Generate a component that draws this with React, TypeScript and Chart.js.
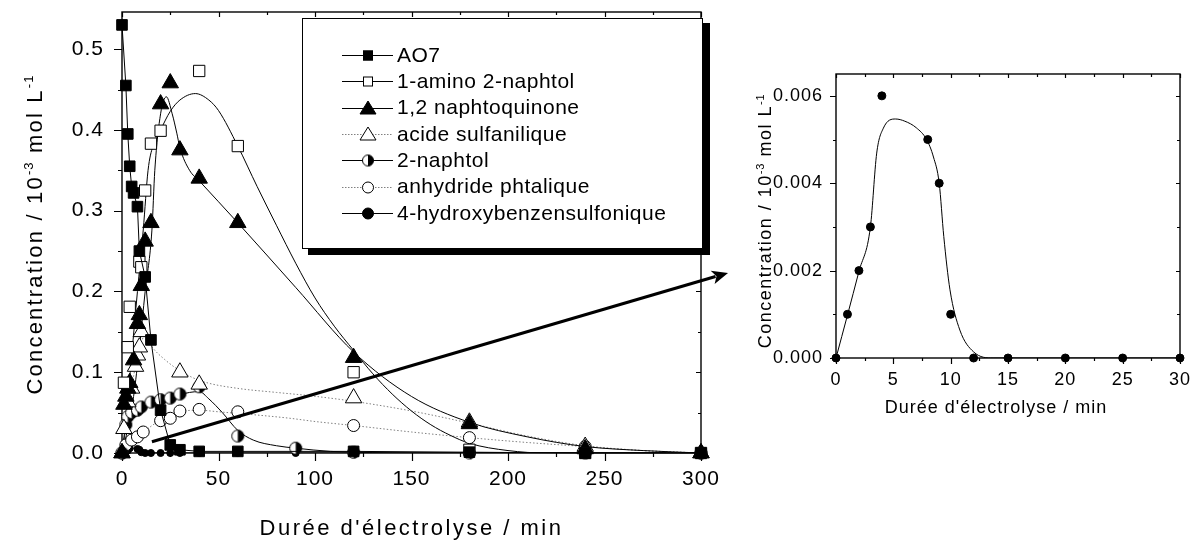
import React, { useEffect, useRef } from 'react';
import { Chart, registerables } from 'chart.js';

Chart.register(...registerables);

const FONT = '"Liberation Sans", Arial, Helvetica, sans-serif';

// ---------------- names / titles ----------------
const seriesNames = [
  'AO7',
  '1-amino 2-naphtol',
  '1,2 naphtoquinone',
  'acide sulfanilique',
  '2-naphtol',
  'anhydride phtalique',
  '4-hydroxybenzensulfonique',
];
const xTitle = "Durée d'électrolyse / min";
const yTitleParts: [string, boolean][] = [
  ['Concentration / 10', false],
  ['-3', true],
  [' mol L', false],
  ['-1', true],
];

// ---------------- left chart : measured points ----------------
const ao7Time = [0, 2, 3, 4, 5, 6, 8, 9, 12, 15, 20, 25, 30, 40, 60, 120, 180, 240, 300];
const ao7Conc = [0.53, 0.455, 0.395, 0.355, 0.33, 0.322, 0.305, 0.25, 0.218, 0.14, 0.053, 0.01, 0.004, 0.002, 0.002, 0.002, 0.001, 0, 0];

const aminoTime = [1, 3, 4, 9, 10, 12, 15, 20, 40, 60, 120, 180, 240, 300];
const aminoConc = [0.087, 0.131, 0.181, 0.237, 0.23, 0.325, 0.383, 0.399, 0.473, 0.38, 0.1, 0.004, 0, 0];

const naphtoTime = [0, 1, 2, 3, 4, 6, 8, 9, 10, 12, 15, 20, 25, 30, 40, 60, 120, 180, 240, 300];
const naphtoConc = [0, 0.06, 0.07, 0.08, 0.087, 0.115, 0.16, 0.171, 0.207, 0.262, 0.285, 0.432, 0.458, 0.375, 0.34, 0.285, 0.118, 0.036, 0.005, 0];

const acideTime = [0, 1, 3, 5, 7, 8, 9, 10, 30, 40, 120, 180, 240, 300];
const acideConc = [0, 0.03, 0.063, 0.08, 0.107, 0.121, 0.131, 0.15, 0.1, 0.085, 0.068, 0.038, 0.008, 0];

const naphtolTime = [0, 2, 3, 5, 8, 10, 15, 20, 25, 30, 40, 60, 90, 120, 180, 240, 300];
const naphtolConc = [0, 0.035, 0.045, 0.05, 0.053, 0.057, 0.063, 0.066, 0.068, 0.073, 0.082, 0.021, 0.006, 0.001, 0, 0, 0];

const anhydTime = [0, 2, 5, 8, 11, 20, 25, 30, 40, 60, 120, 180, 240, 300];
const anhydConc = [0, 0.01, 0.016, 0.02, 0.026, 0.04, 0.043, 0.052, 0.054, 0.051, 0.034, 0.019, 0.008, 0];

const hydroTime = [0, 1, 2, 3, 4, 8, 9, 10, 12, 15, 20, 25, 30, 40, 60, 90, 120, 180, 240, 300];
const hydroConc = [0, 0.001, 0.002, 0.003, 0.006, 0.005, 0.004, 0.001, 0, 0, 0, 0, 0, 0, 0, 0, 0, 0, 0, 0];

// ---------------- fitted curves ----------------
const aminoFitTime = [0, 2, 5, 8, 11, 13.5, 16, 20, 25, 30, 38, 45, 50, 60, 70, 80, 90, 100, 110, 120, 130, 140, 150, 160, 170, 180, 200, 220, 300];
const aminoFitConc = [0, 0.04, 0.12, 0.2, 0.276, 0.35, 0.38, 0.4, 0.423, 0.437, 0.445, 0.437, 0.424, 0.38, 0.33, 0.282, 0.235, 0.192, 0.157, 0.127, 0.098, 0.073, 0.052, 0.035, 0.022, 0.012, 0.003, 0, 0];

const naphtoFitTime = [0, 3, 6, 9, 12, 15.5, 17, 20, 23, 26, 28.4, 30, 35, 40, 60, 90, 120, 150, 180, 210, 240, 270, 300];
const naphtoFitConc = [0, 0.03, 0.07, 0.13, 0.2, 0.276, 0.35, 0.42, 0.441, 0.42, 0.396, 0.378, 0.35, 0.337, 0.285, 0.205, 0.125, 0.07, 0.038, 0.02, 0.008, 0.003, 0];

const acideFitTime = [0, 3, 6, 9, 12, 16, 22, 28, 36, 44, 60, 80, 97, 120, 150, 180, 210, 240, 270, 300];
const acideFitConc = [0, 0.05, 0.095, 0.13, 0.145, 0.13, 0.116, 0.105, 0.094, 0.087, 0.08, 0.075, 0.071, 0.064, 0.052, 0.037, 0.021, 0.009, 0.003, 0];

const naphtolFitTime = [0, 2, 5, 10, 15, 20, 25, 30, 35, 40, 45, 52, 60, 68, 80, 90, 108, 130, 150, 300];
const naphtolFitConc = [0, 0.03, 0.045, 0.055, 0.06, 0.064, 0.068, 0.072, 0.075, 0.076, 0.067, 0.05, 0.028, 0.016, 0.009, 0.006, 0.002, 0.0005, 0, 0];

const anhydFitTime = [0, 5, 10, 15, 20, 28, 40, 50, 70, 87, 100, 120, 150, 180, 210, 240, 270, 300];
const anhydFitConc = [0, 0.012, 0.024, 0.033, 0.041, 0.05, 0.053, 0.051, 0.047, 0.043, 0.039, 0.034, 0.026, 0.019, 0.013, 0.008, 0.003, 0];

const hydroFitTime = [0, 1, 2, 3, 3.55, 4.13, 5.2, 6, 7, 7.9, 8.5, 9, 9.4, 9.94, 10.8, 12, 13.7, 15, 30, 300];
const hydroFitConc = [0, 0.00098, 0.00198, 0.003, 0.00469, 0.00526, 0.00547, 0.00542, 0.00527, 0.005, 0.0046, 0.004, 0.00278, 0.00156, 0.00064, 0.00014, 0, 0, 0, 0];

// arrow annotation (left chart data coordinates)
const arrowFrom = [15.5, 0.014];
const arrowTo = [314, 0.223];

// ---------------- helpers ----------------
const pts = (xs: number[], ys: number[]) => xs.map((x, i) => ({ x, y: ys[i] }));

function makeHalfCircle(r: number): HTMLCanvasElement {
  const s = Math.ceil(2 * r + 3);
  const c = document.createElement('canvas');
  c.width = s;
  c.height = s;
  const g = c.getContext('2d')!;
  const cx = s / 2, cy = s / 2;
  g.beginPath();
  g.arc(cx, cy, r, 0, Math.PI * 2);
  g.fillStyle = '#fff';
  g.fill();
  g.beginPath();
  g.moveTo(cx, cy - r);
  g.arc(cx, cy, r, -Math.PI / 2, Math.PI / 2);
  g.closePath();
  g.fillStyle = '#000';
  g.fill();
  g.beginPath();
  g.arc(cx, cy, r, 0, Math.PI * 2);
  g.lineWidth = 1;
  g.strokeStyle = '#000';
  g.stroke();
  return c;
}

function markers(label: string, xs: number[], ys: number[], style: any, radius: number, fill: string, extra: any = {}) {
  return {
    label,
    data: pts(xs, ys),
    showLine: false,
    pointStyle: style,
    pointRadius: radius,
    pointBackgroundColor: fill,
    backgroundColor: fill,
    pointBorderColor: '#000',
    borderColor: '#000',
    pointBorderWidth: 1,
    borderWidth: 1,
    clip: false,
    ...extra,
  };
}

function fit(xs: number[], ys: number[], dotted: boolean) {
  return {
    label: '',
    data: pts(xs, ys),
    showLine: true,
    pointRadius: 0,
    borderColor: dotted ? '#808080' : '#000',
    borderWidth: 1,
    borderDash: dotted ? [1.5, 2] : [],
    cubicInterpolationMode: 'monotone',
    fill: false,
  };
}

function drawRich(ctx: CanvasRenderingContext2D, parts: [string, boolean][], cx: number, cy: number, size: number, ls: number, rot: number) {
  const c = ctx as any;
  ctx.save();
  ctx.translate(cx, cy);
  ctx.rotate(rot);
  ctx.fillStyle = '#000';
  ctx.textBaseline = 'alphabetic';
  ctx.textAlign = 'left';
  const supSize = Math.round(size * 0.6);
  const setF = (sup: boolean) => {
    ctx.font = `${sup ? supSize : size}px ${FONT}`;
    c.letterSpacing = `${sup ? ls * 0.5 : ls}px`;
  };
  const widths = parts.map(([t, sup]) => {
    setF(sup);
    return ctx.measureText(t).width;
  });
  const total = widths.reduce((s, w) => s + w, 0);
  let x = -total / 2;
  const base = size * 0.36;
  parts.forEach(([t, sup], i) => {
    setF(sup);
    ctx.fillText(t, x, sup ? base - size * 0.42 : base);
    x += widths[i];
  });
  ctx.restore();
}

function drawFrameTicks(chart: any, xMinor: number, yMinor: number, outMajor: number, outMinor: number, inMajor: number, inMinor: number) {
  const { ctx, chartArea: a, scales } = chart;
  const xs = scales.x, ys = scales.y;
  ctx.save();
  ctx.strokeStyle = '#000';
  ctx.lineWidth = 1.4;
  ctx.strokeRect(a.left, a.top, a.right - a.left, a.bottom - a.top);
  ctx.lineWidth = 1.2;
  ctx.beginPath();
  const nX = Math.floor((xs.max - xs.min) / xMinor + 1e-6);
  for (let i = 0; i <= nX; i++) {
    const v = xs.min + i * xMinor;
    const major = i % 2 === 0;
    const px = Math.round(xs.getPixelForValue(v)) + 0.5;
    ctx.moveTo(px, a.bottom);
    ctx.lineTo(px, a.bottom + (major ? outMajor : outMinor));
    ctx.moveTo(px, a.top);
    ctx.lineTo(px, a.top + (major ? inMajor : inMinor));
  }
  const nY = Math.floor((ys.max - ys.min) / yMinor + 1e-6);
  for (let i = 0; i <= nY; i++) {
    const v = ys.min + i * yMinor;
    const major = i % 2 === 0;
    const py = Math.round(ys.getPixelForValue(v)) + 0.5;
    ctx.moveTo(a.left, py);
    ctx.lineTo(a.left - (major ? outMajor : outMinor), py);
    ctx.moveTo(a.right, py);
    ctx.lineTo(a.right - (major ? inMajor : inMinor), py);
  }
  ctx.stroke();
  ctx.restore();
}

function drawLegendMarker(ctx: CanvasRenderingContext2D, kind: string, x: number, y: number, half: HTMLCanvasElement) {
  ctx.save();
  ctx.lineWidth = 1;
  ctx.strokeStyle = '#000';
  if (kind === 'sqF' || kind === 'sqO') {
    ctx.fillStyle = kind === 'sqF' ? '#000' : '#fff';
    ctx.fillRect(x - 5, y - 5, 10, 10);
    ctx.strokeRect(x - 4.5, y - 4.5, 9, 9);
  } else if (kind === 'triF' || kind === 'triO') {
    ctx.beginPath();
    ctx.moveTo(x, y - 7.5);
    ctx.lineTo(x + 8, y + 5.5);
    ctx.lineTo(x - 8, y + 5.5);
    ctx.closePath();
    ctx.fillStyle = kind === 'triF' ? '#000' : '#fff';
    ctx.fill();
    ctx.stroke();
  } else if (kind === 'half') {
    ctx.drawImage(half, x - half.width / 2, y - half.height / 2);
  } else {
    ctx.beginPath();
    ctx.arc(x, y, 5.5, 0, Math.PI * 2);
    ctx.fillStyle = kind === 'cirF' ? '#000' : '#fff';
    ctx.fill();
    ctx.stroke();
  }
  ctx.restore();
}

const legendKinds = ['sqF', 'sqO', 'triF', 'triO', 'half', 'cirO', 'cirF'];
const legendDotted = [false, false, false, true, false, true, false];

const fitX = (h: number) => (s: any) => {
  s.height = h;
  s.paddingLeft = 0;
  s.paddingRight = 0;
  s.paddingTop = 0;
  s.paddingBottom = 0;
};
const fitY = (w: number) => (s: any) => {
  s.width = w;
  s.paddingLeft = 0;
  s.paddingRight = 0;
  s.paddingTop = 0;
  s.paddingBottom = 0;
};

export default function App() {
  const leftRef = useRef<HTMLCanvasElement>(null);
  const rightRef = useRef<HTMLCanvasElement>(null);

  useEffect(() => {
    const half = makeHalfCircle(6);
    const halfLegend = makeHalfCircle(5.5);

    const leftPlugin = {
      id: 'leftDecor',
      beforeDraw(chart: any) {
        (chart.ctx as any).letterSpacing = '1px';
      },
      beforeDatasetsDraw(chart: any) {
        drawFrameTicks(chart, 25, 0.05, 8, 4, 5, 3);
      },
      afterDatasetsDraw(chart: any) {
        const { ctx, scales } = chart;
        const p0x = scales.x.getPixelForValue(arrowFrom[0]);
        const p0y = scales.y.getPixelForValue(arrowFrom[1]);
        const p1x = scales.x.getPixelForValue(arrowTo[0]);
        const p1y = scales.y.getPixelForValue(arrowTo[1]);
        const ang = Math.atan2(p1y - p0y, p1x - p0x);
        const L = 16, W = 7;
        const bx = p1x - L * Math.cos(ang), by = p1y - L * Math.sin(ang);
        ctx.save();
        ctx.strokeStyle = '#000';
        ctx.fillStyle = '#000';
        ctx.lineWidth = 3;
        ctx.beginPath();
        ctx.moveTo(p0x, p0y);
        ctx.lineTo(bx + 3 * Math.cos(ang), by + 3 * Math.sin(ang));
        ctx.stroke();
        ctx.beginPath();
        ctx.moveTo(p1x, p1y);
        ctx.lineTo(bx + W * Math.sin(ang), by - W * Math.cos(ang));
        ctx.lineTo(bx + 4 * Math.cos(ang), by + 4 * Math.sin(ang));
        ctx.lineTo(bx - W * Math.sin(ang), by + W * Math.cos(ang));
        ctx.closePath();
        ctx.fill();
        ctx.restore();
      },
      afterDraw(chart: any) {
        const { ctx, chartArea: a } = chart;
        // legend box with shadow
        const bx = 302, by = 18, bw = 401, bh = 231;
        ctx.save();
        ctx.fillStyle = '#000';
        ctx.fillRect(bx + 6, by + 5, bw + 1, bh + 1);
        ctx.fillStyle = '#fff';
        ctx.fillRect(bx, by, bw, bh);
        ctx.strokeStyle = '#000';
        ctx.lineWidth = 1;
        ctx.strokeRect(bx + 0.5, by + 0.5, bw - 1, bh - 1);
        seriesNames.forEach((name, i) => {
          const ry = 55 + i * 26.3;
          ctx.save();
          ctx.beginPath();
          ctx.strokeStyle = legendDotted[i] ? '#808080' : '#000';
          ctx.setLineDash(legendDotted[i] ? [1.5, 1.5] : []);
          ctx.lineWidth = 1;
          ctx.moveTo(342, Math.round(ry) + 0.5);
          ctx.lineTo(393, Math.round(ry) + 0.5);
          ctx.stroke();
          ctx.restore();
          drawLegendMarker(ctx, legendKinds[i], 368, Math.round(ry) + 0.5, halfLegend);
          ctx.save();
          (ctx as any).letterSpacing = '0.5px';
          ctx.font = `21px ${FONT}`;
          ctx.fillStyle = '#000';
          ctx.textBaseline = 'middle';
          ctx.textAlign = 'left';
          ctx.fillText(name, 397, ry + 1);
          ctx.restore();
        });
        ctx.restore();
        // axis titles
        drawRich(ctx, yTitleParts, 34, (a.top + a.bottom) / 2 + 2, 22, 2.2, -Math.PI / 2);
        drawRich(ctx, [[xTitle, false]], (a.left + a.right) / 2, 527, 22, 2.5, 0);
      },
    };

    const leftChart = new Chart(leftRef.current!, {
      type: 'scatter',
      data: {
        datasets: [
          markers(seriesNames[0], ao7Time, ao7Conc, 'rect', 7.5, '#000', { showLine: true, tension: 0 }),
          markers(seriesNames[1], aminoTime, aminoConc, 'rect', 8, '#fff'),
          markers(seriesNames[2], naphtoTime, naphtoConc, 'triangle', 9.5, '#000'),
          markers(seriesNames[3], acideTime, acideConc, 'triangle', 9.5, '#fff'),
          markers(seriesNames[4], naphtolTime, naphtolConc, half, 6, '#fff'),
          markers(seriesNames[5], anhydTime, anhydConc, 'circle', 6, '#fff'),
          markers(seriesNames[6], hydroTime, hydroConc, 'circle', 3.5, '#000'),
          fit(aminoFitTime, aminoFitConc, false),
          fit(naphtoFitTime, naphtoFitConc, false),
          fit(acideFitTime, acideFitConc, true),
          fit(naphtolFitTime, naphtolFitConc, false),
          fit(anhydFitTime, anhydFitConc, true),
          fit(hydroFitTime, hydroFitConc, false),
        ] as any,
      },
      options: {
        animation: false,
        responsive: false,
        devicePixelRatio: 1,
        events: [],
        layout: { padding: { left: 0, right: 34, top: 12, bottom: 0 } },
        plugins: { legend: { display: false }, tooltip: { enabled: false } },
        scales: {
          x: {
            type: 'linear',
            min: 0,
            max: 300,
            grid: { display: false, drawTicks: false },
            border: { display: false },
            ticks: {
              stepSize: 50,
              color: '#000',
              padding: 14,
              maxRotation: 0,
              autoSkip: false,
              font: { size: 21, family: FONT },
            },
            afterFit: fitX(91),
          },
          y: {
            type: 'linear',
            min: 0,
            max: 0.546,
            grid: { display: false, drawTicks: false },
            border: { display: false },
            ticks: {
              stepSize: 0.1,
              includeBounds: false,
              color: '#000',
              padding: 18,
              autoSkip: false,
              font: { size: 21, family: FONT },
              callback: (v: any) => Number(v).toFixed(1),
            },
            afterFit: fitY(122),
          },
        },
      } as any,
      plugins: [leftPlugin],
    });

    const rightPlugin = {
      id: 'rightDecor',
      beforeDraw(chart: any) {
        (chart.ctx as any).letterSpacing = '1px';
      },
      beforeDatasetsDraw(chart: any) {
        drawFrameTicks(chart, 2.5, 0.001, 6, 3, 4, 3);
      },
      afterDraw(chart: any) {
        const { ctx, chartArea: a } = chart;
        drawRich(ctx, yTitleParts, 30, (a.top + a.bottom) / 2 + 5, 18, 1.5, -Math.PI / 2);
        drawRich(ctx, [[xTitle, false]], 261, 407, 18, 1, 0);
      },
    };

    const rightTime = hydroTime.filter((t) => t <= 30);
    const rightConc = hydroConc.slice(0, rightTime.length);
    const rFitTime = hydroFitTime.filter((t) => t <= 30);
    const rFitConc = hydroFitConc.slice(0, rFitTime.length);

    const rightChart = new Chart(rightRef.current!, {
      type: 'scatter',
      data: {
        datasets: [
          markers(seriesNames[6], rightTime, rightConc, 'circle', 4, '#000'),
          fit(rFitTime, rFitConc, false),
        ] as any,
      },
      options: {
        animation: false,
        responsive: false,
        devicePixelRatio: 1,
        events: [],
        layout: { padding: { left: 0, right: 10, top: 74, bottom: 0 } },
        plugins: { legend: { display: false }, tooltip: { enabled: false } },
        scales: {
          x: {
            type: 'linear',
            min: 0,
            max: 30,
            grid: { display: false, drawTicks: false },
            border: { display: false },
            ticks: {
              stepSize: 5,
              color: '#000',
              padding: 11,
              maxRotation: 0,
              autoSkip: false,
              font: { size: 18, family: FONT },
            },
            afterFit: fitX(186),
          },
          y: {
            type: 'linear',
            min: 0,
            max: 0.0065,
            grid: { display: false, drawTicks: false },
            border: { display: false },
            ticks: {
              stepSize: 0.002,
              includeBounds: false,
              color: '#000',
              padding: 13,
              autoSkip: false,
              font: { size: 18, family: FONT },
              callback: (v: any) => Number(v).toFixed(3),
            },
            afterFit: fitY(101),
          },
        },
      } as any,
      plugins: [rightPlugin],
    });

    return () => {
      leftChart.destroy();
      rightChart.destroy();
    };
  }, []);

  return (
    <div style={{ position: 'fixed', left: 0, top: 0, width: 1190, height: 544, background: '#fff', overflow: 'hidden' }}>
      <canvas ref={leftRef} width={735} height={544} style={{ position: 'absolute', left: 0, top: 0, width: 735, height: 544 }} />
      <canvas ref={rightRef} width={455} height={544} style={{ position: 'absolute', left: 735, top: 0, width: 455, height: 544 }} />
    </div>
  );
}
